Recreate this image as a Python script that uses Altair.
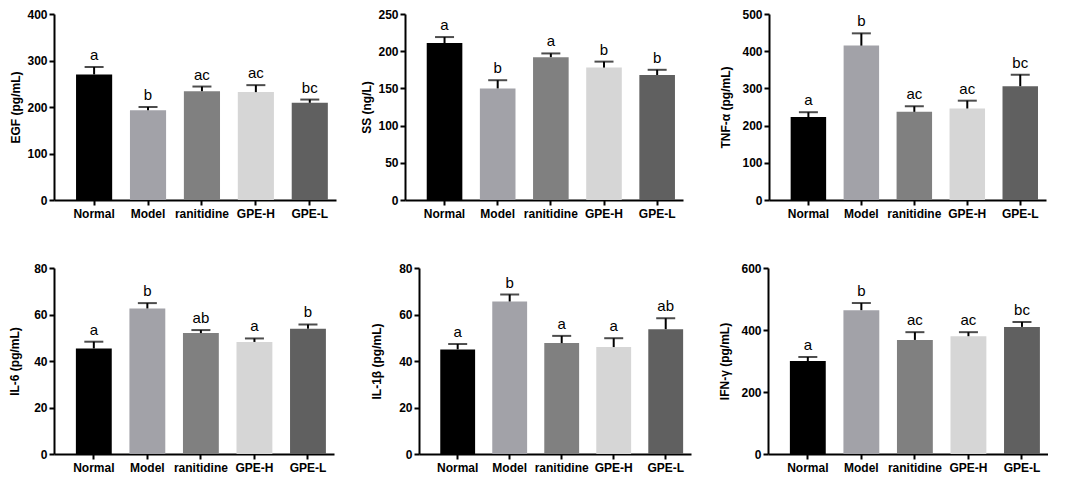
import altair as alt
import pandas as pd

groups = ["Normal", "Model", "ranitidine", "GPE-H", "GPE-L"]
colors = ["#000000", "#a2a2a8", "#808080", "#d6d6d6", "#606060"]

egf_mean = [270, 193, 234, 232, 209]
egf_err = [16, 7, 10, 15, 7]
egf_sig = ["a", "b", "ac", "ac", "bc"]

ss_mean = [211, 150, 192, 178, 168]
ss_err = [8, 11, 5, 8, 7]
ss_sig = ["a", "b", "a", "b", "b"]

tnf_mean = [223, 415, 237, 246, 306]
tnf_err = [13, 33, 15, 21, 31]
tnf_sig = ["a", "b", "ac", "ac", "bc"]

il6_mean = [45.4, 62.6, 52.0, 48.2, 53.9]
il6_err = [2.9, 2.3, 1.3, 1.5, 1.8]
il6_sig = ["a", "b", "ab", "a", "b"]

il1b_mean = [45.0, 65.6, 47.7, 46.0, 53.7]
il1b_err = [2.3, 3.0, 3.1, 3.8, 4.7]
il1b_sig = ["a", "b", "a", "a", "ab"]

ifn_mean = [300, 464, 368, 380, 410]
ifn_err = [13, 23, 25, 13, 16]
ifn_sig = ["a", "b", "ac", "ac", "bc"]

FONT = "Liberation Sans"


def panel(mean, err, sig, title, ymax, step, width, title_pad=4):
    df = pd.DataFrame({
        "group": groups,
        "mean": mean,
        "cap": [m + e for m, e in zip(mean, err)],
        "sig": sig,
    })
    xenc = alt.X(
        "group:N", sort=groups, title=None,
        scale=alt.Scale(paddingInner=0.33, paddingOuter=0.28, align=0.73),
        axis=alt.Axis(labelAngle=0, labelOverlap=False, labelBound=False,
                      labelPadding=3, ticks=True, tickSize=5, grid=False,
                      domainColor="black", domainWidth=2, tickColor="black",
                      tickWidth=2, labelColor="black", labelFont=FONT,
                      labelFontSize=12, labelFontWeight="bold"),
    )
    yscale = alt.Scale(domain=[0, ymax], nice=False, zero=True)
    yaxis = alt.Axis(values=list(range(0, ymax + 1, step)), tickSize=5,
                     labelPadding=2, titlePadding=title_pad, format="d",
                     grid=False, domainColor="black", domainWidth=2,
                     tickColor="black", tickWidth=2, labelColor="black",
                     labelFont=FONT, labelFontSize=12, labelFontWeight="bold",
                     titleColor="black", titleFont=FONT, titleFontSize=12,
                     titleFontWeight="bold")
    base = alt.Chart(df).encode(x=xenc)
    bars = base.mark_bar().encode(
        y=alt.Y("mean:Q", title=title, scale=yscale, axis=yaxis),
        color=alt.Color("group:N", sort=groups,
                        scale=alt.Scale(domain=groups, range=colors), legend=None),
    )
    rule = base.mark_rule(color="black", strokeWidth=2).encode(
        y=alt.Y("mean:Q", title=title, scale=yscale, axis=yaxis), y2="cap:Q")
    cap = base.mark_tick(color="black", thickness=2, size=19, orient="horizontal").encode(
        y=alt.Y("cap:Q", title=title, scale=yscale, axis=yaxis))
    text = base.mark_text(font=FONT, fontSize=15, dy=-4, baseline="bottom",
                          color="black").encode(
        y=alt.Y("cap:Q", title=title, scale=yscale, axis=yaxis), text="sig:N")
    return alt.layer(bars, rule, cap, text).properties(width=width, height=186)


p1 = panel(egf_mean, egf_err, egf_sig, "EGF (pg/mL)", 400, 100, 282, title_pad=4)
p2 = panel(ss_mean, ss_err, ss_sig, "SS (ng/L)", 250, 50, 278, title_pad=4)
p3 = panel(tnf_mean, tnf_err, tnf_sig, "TNF-α (pg/mL)", 500, 100, 277, title_pad=9)
p4 = panel(il6_mean, il6_err, il6_sig, "IL-6 (pg/mL)", 80, 20, 280, title_pad=12)
p5 = panel(il1b_mean, il1b_err, il1b_sig, "IL-1β (pg/mL)", 80, 20, 272, title_pad=15)
p6 = panel(ifn_mean, ifn_err, ifn_sig, "IFN-γ (pg/mL)", 600, 200, 280, title_pad=9)

row1 = alt.hconcat(alt.hconcat(p1, p2, spacing=24), p3, spacing=36)
row2 = alt.hconcat(alt.hconcat(p4, p5, spacing=36), p6, spacing=27)

chart = alt.vconcat(row1, row2, spacing=43).properties(
    padding=0, background="white"
).configure_view(stroke=None)

chart.save("out.html", embed_options={"renderer": "svg", "actions": False})
